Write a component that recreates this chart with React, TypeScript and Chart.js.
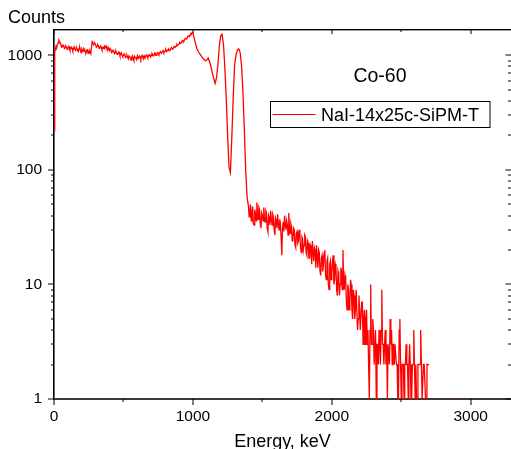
import { useEffect, useRef } from "react";
import { Chart, registerables } from "chart.js";

Chart.register(...registerables);

// ---- Spectrum data (counts) ----
// Low-energy continuum: 0 … 995 keV, one value every 5 keV
const LOW_START_KEV = 0;
const LOW_STEP_KEV = 5;
const LOW_COUNTS: number[] = [
  // 0-95
  220, 1080, 1120, 1210, 1190, 1250, 1290, 1360, 1330, 1270, 1240, 1180, 1190, 1230, 1210, 1150, 1170, 1210, 1180, 1130,
  // 100-195
  1150, 1200, 1190, 1120, 1140, 1180, 1160, 1100, 1120, 1190, 1170, 1110, 1130, 1150, 1100, 1080, 1150, 1170, 1110, 1060,
  // 200-295
  1140, 1110, 1090, 1150, 1130, 1070, 1060, 1110, 1120, 1040, 1080, 1110, 1050, 1030, 1180, 1320, 1300, 1240, 1260, 1270,
  // 300-395
  1230, 1180, 1200, 1240, 1210, 1150, 1170, 1210, 1190, 1130, 1150, 1180, 1140, 1200, 1180, 1210, 1150, 1120, 1170, 1130,
  // 400-495
  1110, 1140, 1100, 1060, 1080, 1110, 1090, 1040, 1060, 1090, 1050, 1020, 1040, 1070, 1060, 1000, 1020, 1050, 1010, 980,
  // 500-595
  1000, 1030, 1010, 960, 980, 1000, 960, 930, 990, 970, 950, 910, 970, 990, 940, 900, 980, 960, 950, 920,
  // 600-695
  990, 940, 960, 990, 970, 930, 980, 1000, 960, 940, 990, 960, 970, 1010, 1000, 960, 980, 1020, 1010, 970,
  // 700-795
  1000, 1040, 1020, 990, 1010, 1050, 1040, 1000, 1020, 1060, 1050, 1020, 1040, 1080, 1060, 1050, 1070, 1100, 1060, 1080,
  // 800-895
  1090, 1120, 1080, 1100, 1110, 1140, 1100, 1120, 1130, 1170, 1150, 1140, 1160, 1200, 1190, 1180, 1210, 1250, 1230, 1240,
  // 900-995
  1260, 1300, 1280, 1290, 1310, 1350, 1340, 1330, 1370, 1410, 1400, 1390, 1430, 1480, 1470, 1460, 1510, 1550, 1540, 1590,
];

// Photopeak region: 1000 … 1390 keV, one value every 10 keV
const PEAK_START_KEV = 1000;
const PEAK_STEP_KEV = 10;
const PEAK_COUNTS: number[] = [
  // 1000-1090
  1580, 1400, 1250, 1130, 1070, 1030, 990, 950, 920, 900,
  // 1100-1190
  910, 950, 880, 800, 700, 630, 570, 640, 830, 1200,
  // 1200-1290
  1480, 1530, 1250, 780, 420, 200, 105, 95, 190, 420,
  // 1300-1390
  820, 1000, 1110, 1140, 1060, 820, 480, 230, 100, 58,
];

// Tail: 1400 … 2715 keV, one value every 5 keV
const TAIL_START_KEV = 1400;
const TAIL_STEP_KEV = 5;
const TAIL_COUNTS: number[] = [
  // 1400-1495
  48, 39, 44, 50, 36, 41, 48, 34, 33, 45, 42, 36, 52, 43, 37, 47, 45, 34, 31, 42,
  // 1500-1595
  40, 36, 47, 39, 35, 44, 42, 31, 29, 40, 38, 33, 44, 37, 33, 41, 39, 30, 27, 38,
  // 1600-1695
  36, 31, 41, 34, 30, 37, 34, 26, 18, 31, 35, 29, 40, 33, 30, 36, 33, 27, 42, 31,
  // 1700-1795
  28, 34, 32, 24, 25, 31, 30, 22, 21, 28, 29, 23, 24, 30, 27, 21, 19, 26, 25, 20,
  // 1800-1895
  22, 27, 26, 19, 18, 24, 23, 17, 17, 22, 21, 15, 24, 19, 16, 21, 20, 14, 22, 17,
  // 1900-1995
  14, 20, 19, 13, 12, 17, 18, 13, 15, 19, 20, 12, 11, 16, 17, 10, 9, 15, 16, 11,
  // 2000-2095
  13, 16, 18, 10, 11, 15, 14, 9, 8, 13, 12, 8, 10, 14, 13, 9, 20, 11, 9, 12,
  // 2100-2195
  11, 7, 6, 10, 9, 6, 7, 11, 10, 6, 5, 9, 8, 5, 6, 9, 9, 4, 5, 8,
  // 2200-2295
  6, 4, 4, 7, 7, 3, 5, 6, 3, 5, 6, 3, 4, 2, 1, 4, 10, 3, 3, 5,
  // 2300-2395
  4, 2, 2, 4, 1, 3, 3, 2, 4, 3, 2, 4, 9, 3, 3, 2, 3, 4, 2, 3,
  // 2400-2495
  1, 3, 3, 2, 5, 3, 4, 2, 3, 3, 2, 3, 3, 2, 2, 1, 1, 4, 5, 2,
  // 2500-2595
  1, 2, 2, 2, 1, 2, 2, 3, 2, 2, 1, 2, 3, 2, 1, 1, 2, 2, 4, 2,
  // 2600-2695
  1, 2, 1, 1, 2, 2, 2, 2, 4, 2, 1, 1, 2, 2, 2, 1, 1, 2, 2, 2,
  // 2700-2715
  2, 2, 0, 0,
];

// High-energy end: 2720 … 3290 keV, one value every 10 keV
const END_START_KEV = 2720;
const END_STEP_KEV = 10;
const END_COUNTS: number[] = [
  // 2720-2790
  0, 0, 0, 0, 0, 0, 0, 1,
  // 2800-2890
  1, 0, 0, 0, 1, 1, 0, 0, 0, 0,
  // 2900-2990
  0, 0, 0, 1, 1, 0, 0, 0, 0, 0,
  // 3000-3090
  0, 0, 0, 0, 0, 0, 0, 0, 0, 0,
  // 3100-3190
  0, 0, 0, 0, 1, 1, 0, 0, 0, 0,
  // 3200-3290
  0, 0, 0, 0, 0, 0, 0, 0, 0, 0,
];

const X_MIN = 0;
const X_MAX = 3290;
const X_MAJOR_TICKS = [0, 1000, 2000, 3000];
const X_MINOR_TICKS = [500, 1500, 2500];
const Y_MIN = 1;
const Y_MAX = 1700;
const Y_MAJOR_TICKS = [1, 10, 100, 1000];
const Y_MINOR_MULTIPLIERS = [2, 3, 4, 5, 6, 7, 8, 9];

const SERIES_LABEL = "NaI-14x25c-SiPM-T";
const CHART_TITLE = "Co-60";
const X_TITLE = "Energy, keV";
const Y_TITLE = "Counts";

const FONT = "'Liberation Sans', Arial, sans-serif";
const LINE_COLOR = "#ff0000";

function segmentPoints(start: number, step: number, counts: number[]) {
  return counts.map((c, i) => ({ x: start + i * step, y: c }));
}

const framePlugin = {
  id: "originFrame",
  beforeDatasetsDraw(chart: any) {
    const { ctx, chartArea: a, scales } = chart;
    const xs = scales.x;
    const ys = scales.y;
    ctx.save();
    ctx.fillStyle = "#000";
    ctx.fillRect(a.left - 1, a.top, a.right - a.left + 1, 1.4);
    ctx.fillRect(a.left - 1, a.top, 1.6, a.bottom - a.top);
    ctx.fillStyle = "#3a3a3a";
    ctx.fillRect(a.left - 1, a.bottom - 1, a.right - a.left + 1, 2);
    ctx.fillStyle = "#000";
    X_MAJOR_TICKS.forEach((v) => {
      const px = Math.round(xs.getPixelForValue(v)) - 0.5;
      ctx.fillRect(px, a.bottom, 1, 6);
      ctx.fillRect(px, a.top, 1, 5);
    });
    X_MINOR_TICKS.forEach((v) => {
      const px = Math.round(xs.getPixelForValue(v)) - 0.5;
      ctx.fillRect(px, a.bottom, 1, 3);
      ctx.fillRect(px, a.top, 1, 3);
    });
    Y_MAJOR_TICKS.forEach((d) => {
      const py = Math.round(ys.getPixelForValue(d)) - 0.5;
      ctx.fillRect(a.left - 6, py, 6, 1);
      ctx.fillRect(a.right - 5.5, py, 5.5, 1);
      Y_MINOR_MULTIPLIERS.forEach((m) => {
        const v = d * m;
        if (v > Y_MAX) return;
        const pm = Math.round(ys.getPixelForValue(v)) - 0.5;
        ctx.fillRect(a.left - 3, pm, 3, 1);
        ctx.fillRect(a.right - 3, pm, 3, 1);
      });
    });
    ctx.restore();
  },
  afterDraw(chart: any) {
    const { ctx, chartArea: a } = chart;
    ctx.save();
    ctx.fillStyle = "#000";
    ctx.textBaseline = "alphabetic";
    ctx.font = `18px ${FONT}`;
    ctx.textAlign = "left";
    ctx.fillText(Y_TITLE, 8, 22.5);
    ctx.textAlign = "center";
    ctx.fillText(X_TITLE, (a.left + a.right) / 2, 447);
    ctx.font = `19.5px ${FONT}`;
    ctx.fillText(CHART_TITLE, 380, 81.5);
    ctx.strokeStyle = "#000";
    ctx.lineWidth = 1;
    ctx.strokeRect(270.5, 101.5, 219.5, 26);
    ctx.strokeStyle = LINE_COLOR;
    ctx.beginPath();
    ctx.moveTo(272.5, 114.5);
    ctx.lineTo(315.5, 114.5);
    ctx.stroke();
    ctx.font = `18px ${FONT}`;
    ctx.textAlign = "left";
    ctx.fillText(SERIES_LABEL, 321, 121);
    ctx.restore();
  },
};

export default function App() {
  const canvasRef = useRef<HTMLCanvasElement | null>(null);

  useEffect(() => {
    const canvas = canvasRef.current;
    if (!canvas) return;
    const points = [
      ...segmentPoints(LOW_START_KEV, LOW_STEP_KEV, LOW_COUNTS),
      ...segmentPoints(PEAK_START_KEV, PEAK_STEP_KEV, PEAK_COUNTS),
      ...segmentPoints(TAIL_START_KEV, TAIL_STEP_KEV, TAIL_COUNTS),
      ...segmentPoints(END_START_KEV, END_STEP_KEV, END_COUNTS),
    ];
    const chart = new Chart(canvas, {
      type: "line",
      data: {
        datasets: [
          {
            label: SERIES_LABEL,
            data: points,
            borderColor: LINE_COLOR,
            backgroundColor: LINE_COLOR,
            borderWidth: 1.3,
            pointRadius: 0,
            tension: 0,
            spanGaps: false,
            fill: false,
          },
        ],
      },
      options: {
        responsive: false,
        animation: false,
        devicePixelRatio: 1,
        layout: { padding: { top: 29, left: 0, right: 0, bottom: 0 } },
        plugins: {
          legend: { display: false },
          tooltip: { enabled: false },
          title: { display: false },
        },
        scales: {
          x: {
            type: "linear",
            min: X_MIN,
            max: X_MAX,
            grid: { display: false, drawTicks: false },
            border: { display: false },
            ticks: {
              padding: 8,
              color: "#000",
              maxRotation: 0,
              font: { family: FONT, size: 15.5 },
              callback: (v: any) => String(v),
            },
            afterBuildTicks: (s: any) => {
              s.ticks = X_MAJOR_TICKS.map((v) => ({ value: v }));
            },
            afterFit: (s: any) => {
              s.height = 50;
            },
          },
          y: {
            type: "logarithmic",
            min: Y_MIN,
            max: Y_MAX,
            grid: { display: false, drawTicks: false },
            border: { display: false },
            ticks: {
              padding: 12,
              color: "#000",
              font: { family: FONT, size: 15.5 },
              callback: (v: any) => String(v),
            },
            afterBuildTicks: (s: any) => {
              s.ticks = Y_MAJOR_TICKS.map((v) => ({ value: v, major: true }));
            },
            afterFit: (s: any) => {
              s.width = 54;
            },
          },
        },
      },
      plugins: [framePlugin],
    });
    return () => chart.destroy();
  }, []);

  return (
    <div
      style={{
        position: "fixed",
        left: 0,
        top: 0,
        width: 511,
        height: 449,
        background: "#fff",
      }}
    >
      <canvas
        ref={canvasRef}
        width={511}
        height={449}
        style={{ display: "block", width: 511, height: 449 }}
      />
    </div>
  );
}
